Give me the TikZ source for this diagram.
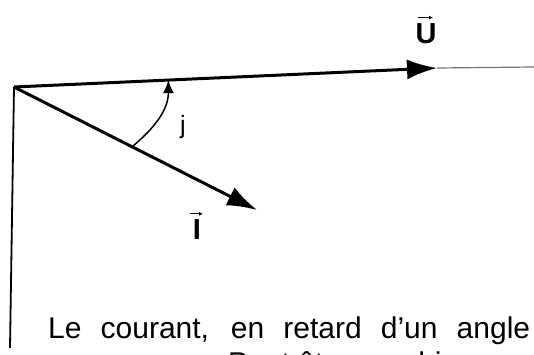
\documentclass[tikz,border=0pt]{standalone}
\usepackage{fontspec}
\setmainfont{Liberation Sans}
\usepackage{tikz}
\usetikzlibrary{calc, arrows.meta, positioning}

\begin{document}
\begin{tikzpicture}[x=1pt, y=1pt, >={Latex[length=30pt, width=20pt]},
    vecteur/.style={->, line width=3pt},
    fleche/.style={-{Latex[length=4pt, width=4pt]}, line width=1.2pt},
    etiquette/.style={font=\fontsize{29}{32}\bfseries\selectfont, inner sep=0pt}]
    \useasboundingbox (0,0) rectangle (534,354);
    \clip (0,0) rectangle (534,354);

    % Origine et extrémités des vecteurs
    \coordinate (O) at (14,267);
    \coordinate (U) at (437,286);
    \coordinate (Ufin) at (534,287);
    \coordinate (I) at (257,144);
    \coordinate (bas) at (10,6);

    % Axe vertical et prolongement de U
    \draw[line width=1.8pt] (O) -- (bas);
    \draw[line width=1.2pt, black!55] (U) -- (Ufin);

    % Vecteurs U et I
    \draw[vecteur] (O) -- (U);
    \draw[vecteur] (O) -- (I);
    \node[etiquette] (nomU) at (426,320) {U};
    \draw[fleche] ([xshift=-8pt, yshift=6pt]nomU.north) -- ([xshift=7pt, yshift=6pt]nomU.north);
    \node[etiquette] (nomI) at (197,124) {I};
    \draw[fleche] ([xshift=-7pt, yshift=6pt]nomI.north) -- ([xshift=6pt, yshift=6pt]nomI.north);

    % Angle de déphasage
    \draw[line width=1.5pt, -{Latex[length=13pt, width=11pt]}]
        ($(O)!0.486!(I)$) to[out=40, in=-90] ($(O)!0.365!(U)$);
    \node[font=\fontsize{25}{28}\selectfont] (phi) at (183,227) {j};

    % Texte sous la figure
    \node[anchor=base west, inner sep=0pt, font=\fontsize{30}{34}\selectfont]
        (texte1) at (48,16) {\makebox[482pt][s]{Le courant, en retard d'un angle}};
    \node[anchor=base west, inner sep=0pt, font=\fontsize{30}{34}\selectfont]
        (texte2) at (228,-19) {Peut être graphiquement};
\end{tikzpicture}
\end{document}
